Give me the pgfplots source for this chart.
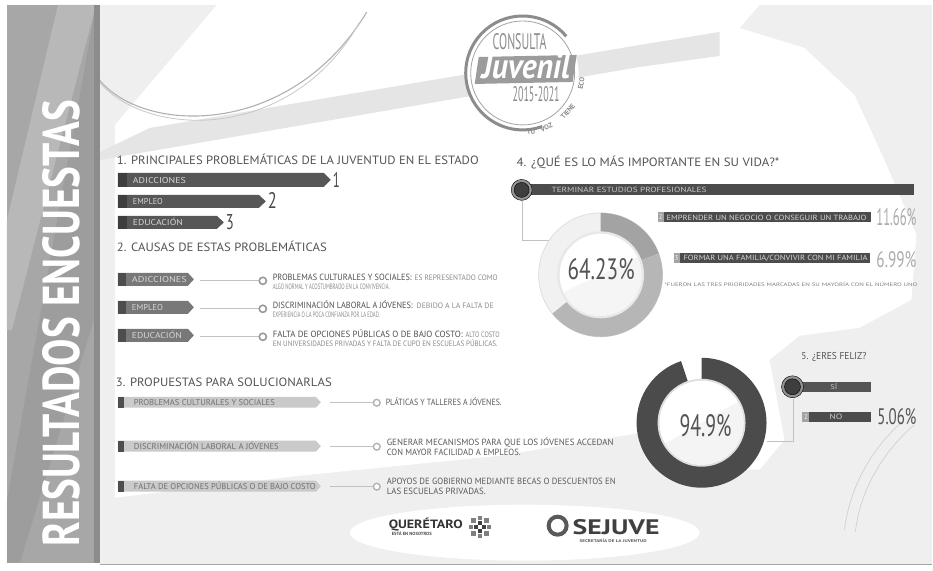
\documentclass[border=0pt]{standalone}
\usepackage{pgfplots}
\pgfplotsset{compat=1.18}
\usepackage{graphicx}
\usepackage{fontspec}
\setmainfont{PT Sans}
\definecolor{bggray}{HTML}{EFEFEF}
\definecolor{band}{HTML}{E5E5E5}
\definecolor{arcg}{HTML}{B0B0B0}
\definecolor{side}{HTML}{A7A7A7}
\definecolor{sidel}{HTML}{B8B8B8}
\definecolor{sided}{HTML}{8C8C8C}
\definecolor{tc}{HTML}{545454}
\definecolor{bar1}{HTML}{575757}
\definecolor{barsq}{HTML}{3E3E3E}
\definecolor{bartxt}{HTML}{D6D6D6}
\definecolor{numc}{HTML}{4A4A4A}
\definecolor{box2}{HTML}{787878}
\definecolor{box2sq}{HTML}{4D4D4D}
\definecolor{btwo}{HTML}{505050}
\definecolor{bltwo}{HTML}{8A8A8A}
\definecolor{lnc}{HTML}{C2C2C2}
\definecolor{box3}{HTML}{CACACA}
\definecolor{box3sq}{HTML}{4E4E4E}
\definecolor{bthree}{HTML}{707070}
\definecolor{sthree}{HTML}{5A5A5A}
\definecolor{bar4}{HTML}{4C4C4C}
\definecolor{sq4}{HTML}{A4A4A4}
\definecolor{bfour}{HTML}{C9C9C9}
\definecolor{pct}{HTML}{ABABAB}
\definecolor{ringa}{HTML}{A3A3A3}
\definecolor{ringb}{HTML}{B6B6B6}
\definecolor{ringc}{HTML}{F1F1F1}
\definecolor{dark}{HTML}{4B4B4B}
\definecolor{logoc}{HTML}{8C8C8C}
\definecolor{logoband}{HTML}{9C9C9C}
\newcommand\fs[1]{\fontsize{#1}{#1}\selectfont}
\newcommand\hx[2]{\resizebox{#1}{\height}{#2}}
\newcommand\fit[3]{\resizebox{#1}{#2}{#3}}
\tikzset{t/.style={anchor=base west,inner sep=0pt,outer sep=0pt}}
% values
\def\pctA{64.23}
\def\pctB{94.9}
\begin{document}
\begin{tikzpicture}
\begin{axis}[x=1pt,y=1pt,y dir=reverse,xmin=0,xmax=933,ymin=0,ymax=571,
  hide axis,clip=false,scale only axis]
% ---------- background ----------
\fill[white] (0,0) rectangle (933,571);
\fill[bggray] (100,5) rectangle (933,565);
\fill[white] (217,5) -- (760,5) -- (740,28) -- (805,48) -- (855,95) -- (885,160) -- (917,235) -- (912,300) -- (860,328) -- (800,336) -- (770,360) -- (785,440) -- (760,470) -- (700,470) -- (660,430) -- (500,456) -- (300,476) -- (115,498) -- (115,125) -- cycle;
\fill[white] (525,533) ellipse [x radius=175pt, y radius=28pt];
\fill[band] (100,152) -- (150,128) -- (640,45) -- (720,32) -- (720,56) -- (640,67) -- (100,160) -- cycle;
\draw[arcg, line width=1.1pt] (97,77) .. controls (140,135) and (290,140) .. (367,12);
\draw[arcg!70, line width=0.8pt] (100,83) .. controls (150,139) and (292,142) .. (360,22);
\draw[arcg!60, line width=0.7pt] (905,420) .. controls (870,450) and (850,490) .. (845,530);
\draw[arcg!60, line width=0.7pt] (915,425) .. controls (880,455) and (860,495) .. (856,532);
\draw[gray!70, line width=1.2pt] (100,565) -- (933,565);
% ---------- sidebar ----------
\fill[side] (7,5) rectangle (100,563);
\fill[sidel] (58,5) -- (96,5) -- (12,330) -- (7,330) -- (7,220) -- cycle;
\fill[sided, opacity=0.35] (96,5) -- (100,5) -- (100,300) -- (20,563) -- (7,563) -- (7,500) -- cycle;
\fill[sided] (94,5) rectangle (100,563);
\node[t, rotate=90, text=white] at (80,547) {\fit{447pt}{37pt}{\bfseries RESULTADOS ENCUESTAS}};
% ---------- logo ----------
\fill[white] (523,73) circle[radius=56pt];
\draw[logoc!80, line width=0.8pt] (523,73) circle[radius=52pt];
\draw[logoc, line width=3pt] (523,73) ++(40:57pt) arc[start angle=40, end angle=290, radius=57pt];
\fill[logoband] (479,57) -- (577,55) -- (573,82) -- (475,84) -- cycle;
\node[t, text=logoc] at (493,50) {\fit{54pt}{16pt}{CONSULTA}};
\node[t, text=white] at (482,79) {\fit{88pt}{25pt}{\bfseries\itshape Juvenil}};
\node[t, text=logoc] at (513,102) {\fit{47pt}{15pt}{2015-2021}};
\begin{scope}[shift={(523,73)}]
\node[anchor=base, inner sep=0pt, rotate=8, text=logoc] at (-82:62pt) {\fs{7}\bfseries TU};
\node[anchor=base, inner sep=0pt, rotate=23.5, text=logoc] at (-66.5:62pt) {\fs{7}\bfseries VOZ};
\node[anchor=base, inner sep=0pt, rotate=49.5, text=logoc] at (-40.5:62pt) {\fs{7}\bfseries TIENE};
\node[anchor=base, inner sep=0pt, rotate=80, text=logoc] at (-10:62pt) {\fs{7}\bfseries ECO};
\end{scope}
% ---------- 1. problematicas ----------
\node[t, text=tc] at (117,165) {\hx{362pt}{\fs{12}1. PRINCIPALES PROBLEMÁTICAS DE LA JUVENTUD EN EL ESTADO}};
\addplot[fill=bar1, draw=none] coordinates {(118,173) (324,173) (331,180) (324,187) (118,187)} -- cycle;
\addplot[fill=bar1, draw=none] coordinates {(118,195) (259,195) (266,201.5) (259,208) (118,208)} -- cycle;
\addplot[fill=bar1, draw=none] coordinates {(118,216) (217,216) (224,222.5) (217,229) (118,229)} -- cycle;
\addplot[fill=barsq, draw=none] coordinates {(118,173) (127,173) (127,187) (118,187)} -- cycle;
\addplot[fill=barsq, draw=none] coordinates {(118,195) (127,195) (127,208) (118,208)} -- cycle;
\addplot[fill=barsq, draw=none] coordinates {(118,216) (127,216) (127,229) (118,229)} -- cycle;
\node[t, text=bartxt] at (133,184) {\hx{53pt}{\fs{8.5}ADICCIONES}};
\node[t, text=bartxt] at (133,205) {\hx{30pt}{\fs{8.5}EMPLEO}};
\node[t, text=bartxt] at (133,226) {\hx{50pt}{\fs{8.5}EDUCACIÓN}};
\node[t, text=numc] at (333,188) {\fit{7pt}{15pt}{1}};
\node[t, text=numc] at (268,209) {\fit{9pt}{16pt}{2}};
\node[t, text=numc] at (226,230) {\fit{8pt}{15pt}{3}};
% ---------- 2. causas ----------
\node[t, text=tc] at (117,252) {\hx{210pt}{\fs{12}2. CAUSAS DE ESTAS PROBLEMÁTICAS}};
\addplot[fill=box2, draw=none] coordinates {(118,273) (188,273) (194,279.5) (188,286) (118,286)} -- cycle;
\addplot[fill=box2, draw=none] coordinates {(118,301) (188,301) (194,307.5) (188,314) (118,314)} -- cycle;
\addplot[fill=box2, draw=none] coordinates {(118,329) (188,329) (194,335.5) (188,342) (118,342)} -- cycle;
\addplot[fill=box2sq, draw=none] coordinates {(118,273) (126,273) (126,286) (118,286)} -- cycle;
\addplot[fill=box2sq, draw=none] coordinates {(118,301) (126,301) (126,314) (118,314)} -- cycle;
\addplot[fill=box2sq, draw=none] coordinates {(118,329) (126,329) (126,342) (118,342)} -- cycle;
\node[t, text=bartxt] at (132,283) {\hx{55pt}{\fs{8.5}ADICCIONES}};
\node[t, text=bartxt] at (132,311) {\hx{31pt}{\fs{8.5}EMPLEO}};
\node[t, text=bartxt] at (132,339) {\hx{50pt}{\fs{8.5}EDUCACIÓN}};
\addplot[lnc, line width=0.8pt] coordinates {(200,281) (259,281)};
\addplot[lnc, line width=0.8pt] coordinates {(200,309) (259,309)};
\addplot[lnc, line width=0.8pt] coordinates {(200,337) (259,337)};
\addplot[only marks, mark=*, mark size=3.6pt, mark options={fill=white, draw=gray!80, line width=1.6pt}] coordinates {(263,281) (263,309) (263,337)};
\node[t, text=btwo] at (273,281) {\hx{139pt}{\fs{9}PROBLEMAS CULTURALES Y SOCIALES:}};
\node[t, text=bltwo] at (415,281) {\hx{83pt}{\fs{7.8}ES REPRESENTADO COMO}};
\node[t, text=bltwo] at (273,290) {\hx{117pt}{\fs{7.8}ALGO NORMAL Y ACOSTUMBRADO EN LA CONVIVENCIA.}};
\node[t, text=btwo] at (273,309) {\hx{140pt}{\fs{9}DISCRIMINACIÓN LABORAL A JÓVENES:}};
\node[t, text=bltwo] at (417,309) {\hx{77pt}{\fs{7.8}DEBIDO A LA FALTA DE}};
\node[t, text=bltwo] at (273,318) {\hx{107pt}{\fs{7.8}EXPERIENCIA O LA POCA CONFIANZA POR LA EDAD.}};
\node[t, text=btwo] at (273,337.5) {\hx{190pt}{\fs{9}FALTA DE OPCIONES PÚBLICAS O DE BAJO COSTO:}};
\node[t, text=bltwo] at (466,337.5) {\hx{34pt}{\fs{7.8}ALTO COSTO}};
\node[t, text=bltwo] at (273,346.5) {\hx{225pt}{\fs{7.8}EN UNIVERSIDADES PRIVADAS Y FALTA DE CUPO EN ESCUELAS PÚBLICAS.}};
% ---------- 3. propuestas ----------
\node[t, text=tc] at (116,387) {\hx{216pt}{\fs{12}3. PROPUESTAS PARA SOLUCIONARLAS}};
\addplot[fill=box3, draw=none] coordinates {(118,397) (316,397) (321,402.5) (316,408) (118,408)} -- cycle;
\addplot[fill=box3, draw=none] coordinates {(118,441) (316,441) (321,446.5) (316,452) (118,452)} -- cycle;
\addplot[fill=box3, draw=none] coordinates {(118,481) (316,481) (321,486.5) (316,492) (118,492)} -- cycle;
\addplot[fill=box3sq, draw=none] coordinates {(118,397) (124,397) (124,408) (118,408)} -- cycle;
\addplot[fill=box3sq, draw=none] coordinates {(118,441) (124,441) (124,452) (118,452)} -- cycle;
\addplot[fill=box3sq, draw=none] coordinates {(118,481) (124,481) (124,492) (118,492)} -- cycle;
\node[t, text=bthree] at (134,406) {\hx{141pt}{\fs{8.5}PROBLEMAS CULTURALES Y SOCIALES}};
\node[t, text=bthree] at (134,450) {\hx{145pt}{\fs{8.5}DISCRIMINACIÓN LABORAL A JÓVENES}};
\node[t, text=bthree] at (134,490) {\hx{182pt}{\fs{8.5}FALTA DE OPCIONES PÚBLICAS O DE BAJO COSTO}};
\addplot[lnc, line width=0.8pt] coordinates {(330,403) (373,403)};
\addplot[lnc, line width=0.8pt] coordinates {(330,447) (373,447)};
\addplot[lnc, line width=0.8pt] coordinates {(330,487) (373,487)};
\addplot[only marks, mark=*, mark size=3.4pt, mark options={fill=white, draw=gray!60, line width=1.4pt}] coordinates {(377,403) (377,447) (377,487)};
\node[t, text=sthree] at (386,406) {\hx{116pt}{\fs{9}PLÁTICAS Y TALLERES A JÓVENES.}};
\node[t, text=sthree] at (387,446) {\hx{227pt}{\fs{9}GENERAR MECANISMOS PARA QUE LOS JÓVENES ACCEDAN}};
\node[t, text=sthree] at (387,456) {\hx{134pt}{\fs{9}CON MAYOR FACILIDAD A EMPLEOS.}};
\node[t, text=sthree] at (387,485) {\hx{229pt}{\fs{9}APOYOS DE GOBIERNO MEDIANTE BECAS O DESCUENTOS EN}};
\node[t, text=sthree] at (387,495) {\hx{99pt}{\fs{9}LAS ESCUELAS PRIVADAS.}};
% ---------- 4. lo mas importante ----------
\node[t, text=tc] at (517,167) {\hx{263pt}{\fs{12}4. ¿QUÉ ES LO MÁS IMPORTANTE EN SU VIDA?*}};
\addplot[fill=bar4, draw=none] coordinates {(528,184) (915,184) (915,195) (528,195)} -- cycle;
\addplot[only marks, mark=*, mark size=10.5pt, mark options={fill=gray!85, draw=none}] coordinates {(522,190)};
\addplot[only marks, mark=*, mark size=7.5pt, mark options={fill=barsq, draw=none}] coordinates {(522,190)};
\node[t, text=bartxt] at (520.5,194) {\fit{3pt}{8pt}{1}};
\node[t, text=bfour] at (552,192.5) {\hx{155pt}{\fs{7.5}TERMINAR ESTUDIOS PROFESIONALES}};
\addplot[lnc, line width=0.8pt] coordinates {(523,201) (523,241) (552,241)};
% donut 64.23
\begin{scope}[shift={(601,275)}]
\fill[ringc] (0,0) circle[radius=62pt];
\draw[gray!30, line width=0.6pt] (0,0) circle[radius=62pt];
\fill[ringa] (90:62pt) arc[start angle=90, end angle=20, radius=62pt] -- (20:41pt) arc[start angle=20, end angle=90, radius=41pt] -- cycle;
\fill[ringb] (20:62pt) arc[start angle=20, end angle=90-3.6*\pctA, radius=62pt] -- (90-3.6*\pctA:41pt) arc[start angle=90-3.6*\pctA, end angle=20, radius=41pt] -- cycle;
\fill[gray!18] (0,0) circle[radius=43.5pt];
\fill[white] (0,0) circle[radius=41pt];
\fill[gray!8] (25:41pt) arc[start angle=25, end angle=-155, radius=41pt] -- cycle;
\end{scope}
\node[t, text=tc] at (568,280) {\fit{67pt}{21pt}{64.23\%}};
% bars 2 and 3
\addplot[fill=sq4, draw=none] coordinates {(658,212.5) (664,212.5) (664,222.5) (658,222.5)} -- cycle;
\addplot[fill=bar4, draw=none] coordinates {(664,212.5) (872,212.5) (872,222.5) (664,222.5)} -- cycle;
\node[t, text=white] at (659.5,220) {\fit{3pt}{5pt}{2}};
\node[t, text=bartxt] at (667,220.5) {\hx{200pt}{\fs{7.5}EMPRENDER UN NEGOCIO O CONSEGUIR UN TRABAJO}};
\node[t, text=pct] at (877,226) {\fit{40pt}{17pt}{11.66\%}};
\addplot[fill=sq4, draw=none] coordinates {(674,253) (680,253) (680,263) (674,263)} -- cycle;
\addplot[fill=bar4, draw=none] coordinates {(680,253) (871,253) (871,263) (680,263)} -- cycle;
\node[t, text=white] at (675.5,260.5) {\fit{3pt}{5pt}{3}};
\node[t, text=bartxt] at (684,261) {\hx{184pt}{\fs{7.5}FORMAR UNA FAMILIA/CONVIVIR CON MI FAMILIA}};
\node[t, text=pct] at (877,268) {\fit{40pt}{16pt}{6.99\%}};
\node[t, text=gray] at (665,287) {\hx{253pt}{\fs{5}*FUERON LAS TRES PRIORIDADES MARCADAS EN SU MAYORÍA CON EL NÚMERO UNO}};
% ---------- 5. eres feliz ----------
\node[t, text=tc] at (802,360) {\hx{65pt}{\fs{10}5. ¿ERES FELIZ?}};
\addplot[fill=bar4!95, draw=none] coordinates {(800,382) (872,382) (872,392) (800,392)} -- cycle;
\addplot[only marks, mark=*, mark size=11pt, mark options={fill=gray!85, draw=none}] coordinates {(793,387)};
\addplot[only marks, mark=*, mark size=8pt, mark options={fill=barsq, draw=none}] coordinates {(793,387)};
\node[t, text=bartxt] at (791.5,391) {\fit{3pt}{8pt}{1}};
\node[t, text=bfour] at (831,390) {\fit{7pt}{6pt}{SÍ}};
\addplot[fill=sq4, draw=none] coordinates {(803,412) (810,412) (810,422) (803,422)} -- cycle;
\addplot[fill=bar4, draw=none] coordinates {(810,412) (872,412) (872,422) (810,422)} -- cycle;
\node[t, text=white] at (805,420) {\fit{3pt}{5pt}{2}};
\node[t, text=bfour] at (830,420) {\fit{13pt}{5.5pt}{NO}};
\node[t, text=tc] at (878,425) {\fit{39pt}{16pt}{5.06\%}};
\addplot[lnc, line width=0.8pt] coordinates {(794,399) (794,442) (767,442)};
% donut 94.9
\begin{scope}[shift={(702,423)}]
\fill[dark] (90:65pt) arc[start angle=90, end angle=90-3.6*\pctB, radius=65pt] -- (90-3.6*\pctB:42pt) arc[start angle=90-3.6*\pctB, end angle=90, radius=42pt] -- cycle;
\fill[gray!25] (0,0) circle[radius=44pt];
\fill[white] (0,0) circle[radius=42pt];
\fill[gray!9] (30:42pt) arc[start angle=30, end angle=-150, radius=42pt] -- cycle;
\end{scope}
\node[t, text=tc] at (680,437) {\fit{52pt}{22pt}{94.9\%}};
% ---------- bottom logos ----------
\node[t, text=black!80] at (389,529) {\hx{74pt}{\fs{12}\bfseries QUERÉTARO}};
\node[t, text=black!70] at (392,535.5) {\hx{40pt}{\fs{4.5}\bfseries ESTÁ EN NOSOTROS}};
\addplot[only marks, mark=square*, mark size=1.9pt, color=gray] coordinates {(489,527) (486.4,520.6) (480,518) (473.6,520.6) (471,527) (473.6,533.4) (480,536) (486.4,533.4)};
\addplot[only marks, mark=square*, mark size=1.5pt, color=black!75] coordinates {(480,523) (484,527) (480,531) (476,527)};
\draw[black!65, line width=4pt] (558,526) circle[radius=9pt];
\node[t, text=black!75] at (573,535) {\fit{87pt}{15pt}{\bfseries SEJUVE}};
\node[t, text=black!65] at (580,543) {\hx{67pt}{\fs{4}\bfseries SECRETARÍA DE LA JUVENTUD}};
\end{axis}
\end{tikzpicture}
\end{document}
